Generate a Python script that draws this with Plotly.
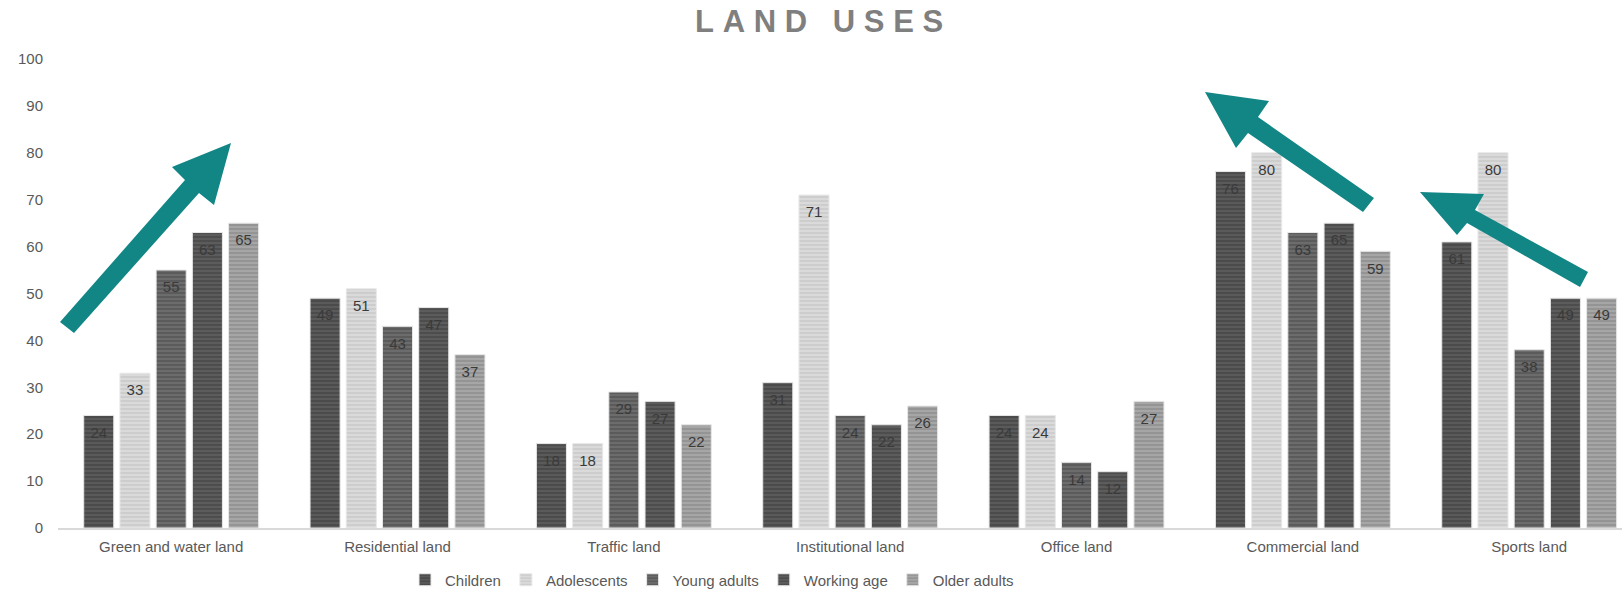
import plotly.graph_objects as go

categories = ["Green and water land", "Residential land", "Traffic land", "Institutional land",
              "Office land", "Commercial land", "Sports land"]
series_names = ["Children", "Adolescents", "Young adults", "Working age", "Older adults"]
children = [24, 49, 18, 31, 24, 76, 61]
adolescents = [33, 51, 18, 71, 24, 80, 80]
young_adults = [55, 43, 29, 24, 14, 63, 38]
working_age = [63, 47, 27, 22, 12, 65, 49]
older_adults = [65, 37, 22, 26, 27, 59, 49]
y_ticks = [0, 10, 20, 30, 40, 50, 60, 70, 80, 90, 100]

values = [children, adolescents, young_adults, working_age, older_adults]
bg_colors = ["#5a5a5a", "#dadada", "#6c6c6c", "#5c5c5c", "#a6a6a6"]
fg_colors = ["#383838", "#bdbdbd", "#474747", "#393939", "#7e7e7e"]

W, H = 1622, 590
L, R, T, B = 58, 0, 59, 62
PW, PH = W - L - R, H - T - B
BARGAP = 0.2

fig = go.Figure()
for i, (name, vals, bg, fg) in enumerate(zip(series_names, values, bg_colors, fg_colors)):
    fig.add_trace(go.Bar(
        name=name, x=categories, y=vals, offsetgroup=str(i),
        marker=dict(color=bg, line=dict(color="#e8e8e8", width=1),
                    pattern=dict(shape="-", fgcolor=fg, bgcolor=bg, size=4, solidity=0.45,
                                 fillmode="overlay")),
    ))
for i, vals in enumerate(values):
    fig.add_trace(go.Scatter(
        x=categories, y=vals, offsetgroup=str(i), mode="markers+text",
        text=[str(v) for v in vals], textposition="bottom center",
        textfont=dict(family="Liberation Sans, Arial", size=15, color="#3a3a3a"),
        marker=dict(size=16, opacity=0), showlegend=False, hoverinfo="skip",
    ))

def px2paper(pts):
    xs = [(p[0] - L) / PW for p in pts]
    ys = [(H - B - p[1]) / PH for p in pts]
    return "M " + " L ".join(f"{x:.5f},{y:.5f}" for x, y in zip(xs, ys)) + " Z"

arrows = [
    [(60, 322), (185, 180), (172, 167), (231, 143), (214, 205), (199, 193), (74, 333)],
    [(1374, 198), (1258, 117), (1269, 101), (1205, 92), (1236, 148), (1248, 133), (1363, 212)],
    [(1588, 272), (1475, 210), (1484, 194), (1420, 192), (1457, 235), (1467, 223), (1580, 287)],
]
teal = "#128585"
for a in arrows:
    fig.add_shape(type="path", path=px2paper(a), xref="paper", yref="paper",
                  fillcolor=teal, line=dict(width=0), layer="above")

sp = "\u2008"
title_text = sp.join("LAND") + sp + " " + sp + sp.join("USES")

fig.update_layout(
    width=W, height=H,
    margin=dict(l=L, r=R, t=T, b=B, autoexpand=False),
    paper_bgcolor="white", plot_bgcolor="white",
    barmode="group", bargap=BARGAP, bargroupgap=0.17,
    scattermode="group", scattergap=BARGAP,
    title=dict(text=f"<b>{title_text}</b>", x=0.505, xanchor="center", y=0.965, yanchor="middle",
               font=dict(family="Liberation Sans, Arial", size=31, color="#7f7f7f")),
    font=dict(family="Liberation Sans, Arial", size=15, color="#595959"),
    showlegend=True,
    legend=dict(orientation="h", x=(712 - L) / PW, xanchor="center", y=(528 - 580) / PH,
                yanchor="middle", font=dict(size=15, color="#595959"), itemwidth=30,
                traceorder="normal", bgcolor="rgba(0,0,0,0)"),
    xaxis=dict(range=[-0.5, 6.41], showline=True, linecolor="#d9d9d9", linewidth=2,
               showgrid=False, ticks="", tickfont=dict(size=15, color="#595959"),
               ticklabelstandoff=4),
    yaxis=dict(range=[0, 100], tickvals=y_ticks, showgrid=False, zeroline=False,
               showline=False, ticks="", tickfont=dict(size=15, color="#595959"),
               ticklabelstandoff=14),
)

fig.write_html("out.html")
